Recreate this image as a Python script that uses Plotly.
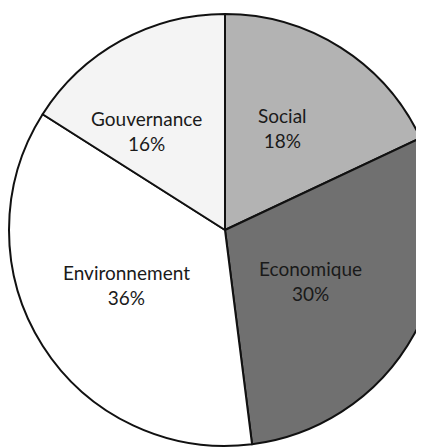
import plotly.graph_objects as go

categories = ["Social", "Economique", "Environnement", "Gouvernance"]
values = [18, 30, 36, 16]
colors = ["#b3b3b3", "#707070", "#ffffff", "#f4f4f4"]

# figure larger than the window so the pie is cropped like the scan
W, H = 434, 440
fig = go.Figure(
    go.Pie(
        labels=categories,
        values=values,
        sort=False,
        direction="clockwise",
        rotation=0,
        marker=dict(colors=colors, line=dict(color="#111111", width=2)),
        textinfo="none",
        hoverinfo="label+percent",
        domain=dict(x=[1 / W, 433 / W], y=[2 / H, 434 / H]),
        showlegend=False,
    )
)

label_pos = {
    "Social": (282, 128),
    "Economique": (310, 281),
    "Environnement": (127, 285),
    "Gouvernance": (146, 131),
}
total = sum(values)
for cat, v in zip(categories, values):
    px, py = label_pos[cat]
    fig.add_annotation(
        x=(px - 8) / W, y=1 - (py - 8) / H, xref="paper", yref="paper",
        xanchor="center", yanchor="middle",
        text=f"{cat}<br>{round(100 * v / total)}%", showarrow=False,
        font=dict(family="Lato", size=19, color="#1a1a1a"), align="center",
    )

fig.update_layout(
    width=W, height=H,
    margin=dict(l=0, r=0, t=0, b=0),
    paper_bgcolor="white", plot_bgcolor="white",
)
fig.write_html("out.html")
